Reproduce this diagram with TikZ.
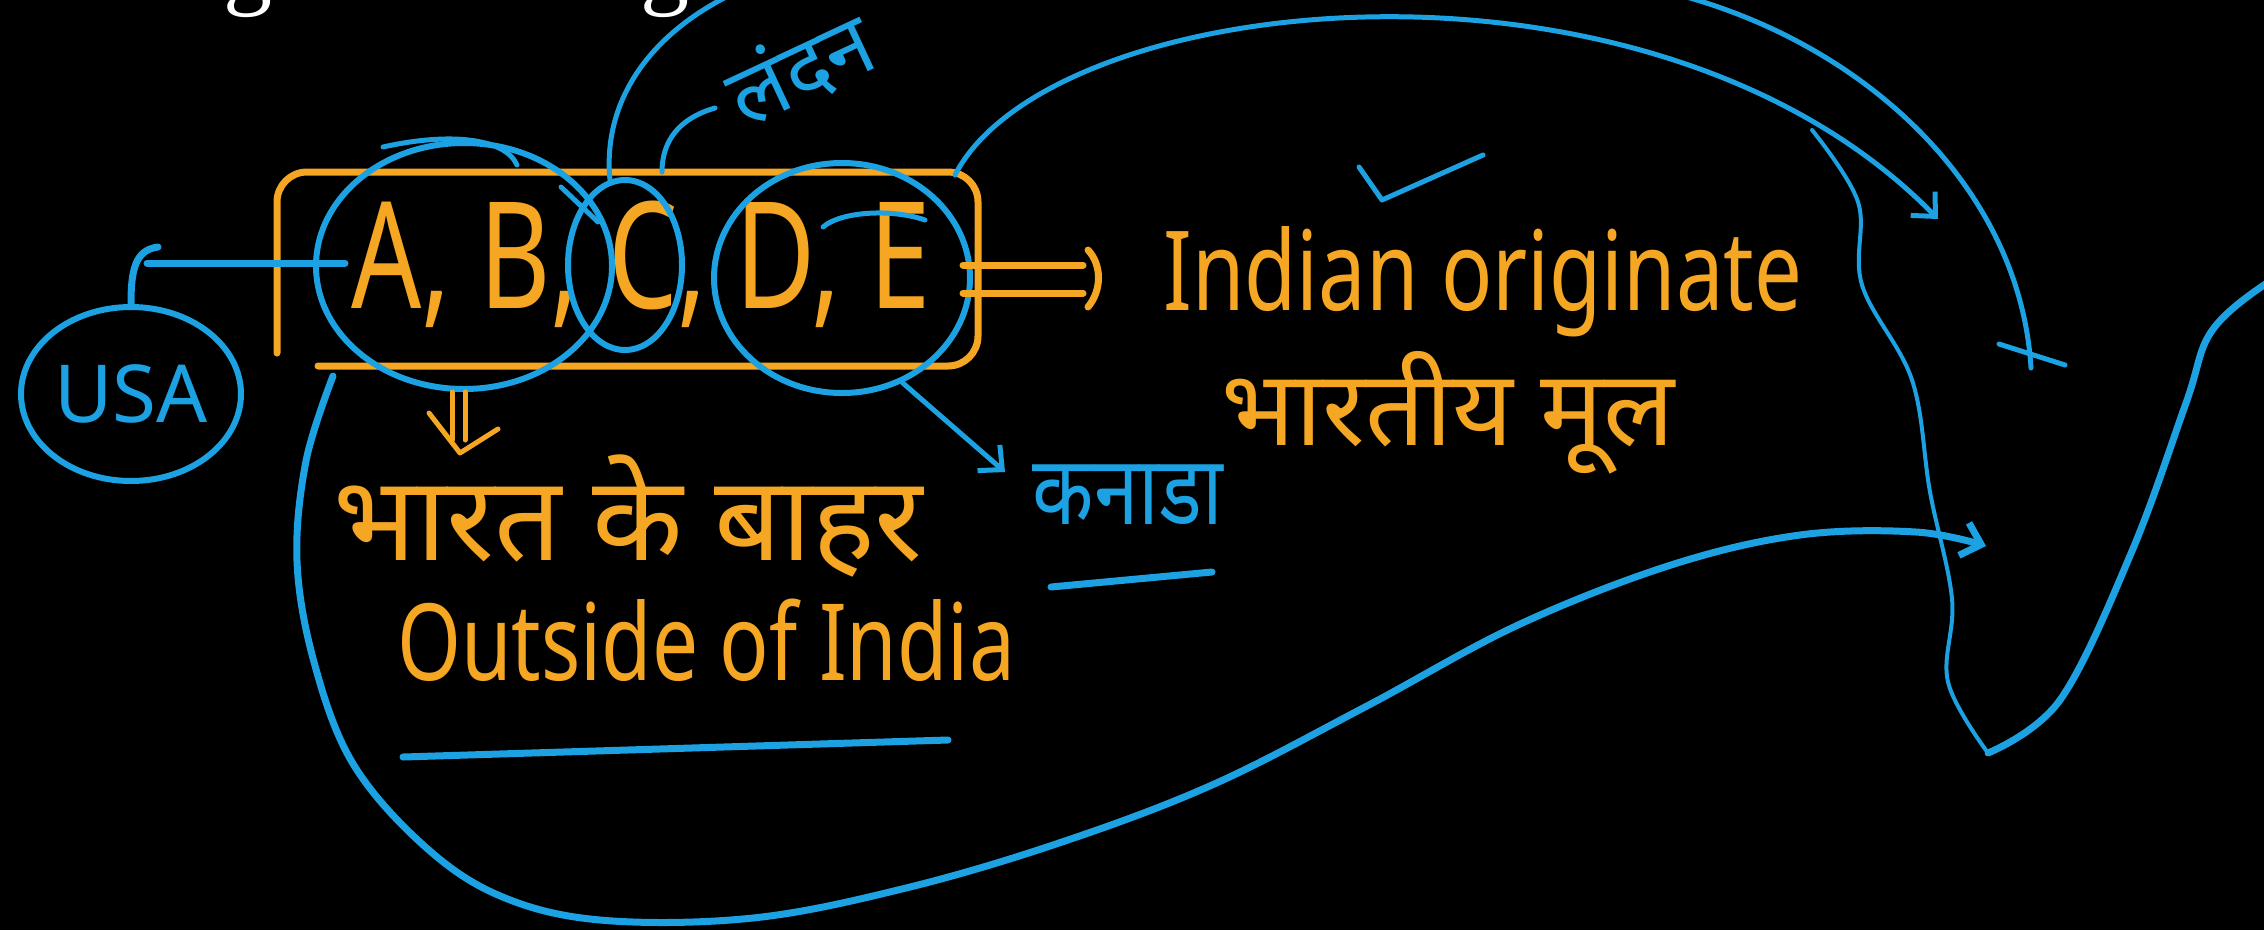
\documentclass[tikz,border=0pt]{standalone}
\usepackage{fontspec}
\usepackage{graphicx}
\setmainfont{Noto Sans}
\newfontfamily\deva[Script=Devanagari]{Noto Sans}
\newfontfamily\topserif{Liberation Serif}
\usetikzlibrary{arrows.meta,shapes.geometric}
\definecolor{wbblue}{RGB}{28,161,226}
\definecolor{wborange}{RGB}{245,166,35}
\begin{document}
\begin{tikzpicture}[x=1pt,y=-1pt,
  bl/.style={draw=wbblue,line width=7pt,line cap=round,line join=round},
  blm/.style={draw=wbblue,line width=5pt,line cap=round,line join=round},
  orl/.style={draw=wborange,line width=7pt,line cap=round,line join=round},
  circ/.style={draw=wbblue,line width=6pt,ellipse,inner sep=0pt},
  otxt/.style={text=wborange,inner sep=0pt},
  btxt/.style={text=wbblue,inner sep=0pt},
  barb/.style={-{Straight Barb[length=18pt,width=34pt]}}
]
\fill[black] (0,0) rectangle (2264,930);
\useasboundingbox (0,0) rectangle (2264,930);
\clip (0,0) rectangle (2264,930);

% cut-off heading at the top
\node[anchor=base west,text=white,inner sep=0pt,font=\topserif\fontsize{98}{98}\selectfont] (heading) at (-288,-4) {of Indian Origin residing Outside India};

% orange group box
\draw[orl,rounded corners=30pt] (277,353) -- (277,172) -- (978,172) -- (978,366) -- (318,366);

% letters
\node[otxt,anchor=base,font=\fontsize{110}{110}\selectfont] (abc) at (641,308) {\scalebox{1}[1.35]{A, B, C, D, E}};

% blue circles
\node[circ,minimum width=296pt,minimum height=246pt] (abcirc) at (464,266) {};
\node[circ,minimum width=114pt,minimum height=170pt] (ccirc) at (625,265) {};
\node[circ,minimum width=256pt,minimum height=230pt] (decirc) at (842,278) {};
\node[circ,minimum width=220pt,minimum height=174pt,text=wbblue,font=\fontsize{80}{80}\selectfont] (usa) at (131,394) {USA};
\draw[blm] (383,147) .. controls (450,132) and (505,138) .. (517,165);
\draw[blm] (823,227) .. controls (840,212) and (890,208) .. (925,220);
\draw[blm] (561,187) -- (598,222);

% arrow to USA
\draw[bl] (345,263) -- (147,263);
\draw[bl] (158,247) .. controls (135,250) and (131,270) .. (usa.north);

% double arrow and Indian originate
\draw[orl] (963,265) -- (1083,265);
\draw[orl] (963,293) -- (1083,293);
\draw[orl] (1088,250) .. controls (1102,265) and (1102,290) .. (1088,307);
\node[otxt,anchor=base west,font=\fontsize{85}{85}\selectfont] (indian) at (1163,310) {\scalebox{1}[1.3]{Indian originate}};
\draw[blm] (1359,167) -- (1382,200) -- (1483,155);
\node[otxt,anchor=base west,font=\deva\fontsize{105}{105}\selectfont] (bhartiya) at (1221,445) {भारतीय मूल};

% down arrow and outside text
\draw[orl,line width=5pt] (452,392) -- (452,440);
\draw[orl,line width=5pt] (465,392) -- (465,440);
\draw[orl,line width=5pt] (429,413) -- (460,453) -- (498,429);
\node[otxt,anchor=base west,font=\deva\fontsize{118}{118}\selectfont] (bahar) at (333,560) {भारत के बाहर};
\node[otxt,anchor=base west,font=\fontsize{82}{82}\selectfont] (outside) at (397,680) {\scalebox{1}[1.3]{Outside of India}};
\draw[bl] (403,757) -- (948,740);

% Canada
\node[btxt,font=\deva\fontsize{80}{80}\selectfont] (canada) at (1128,495) {\scalebox{1}[1.2]{कनाडा}};
\coordinate (canadatip) at (1005,472);
\draw[blm,barb] (decirc.-60) -- (canadatip);
\draw[bl] (1051,587) -- (1212,572);

% London
\node[btxt,rotate=25,font=\deva\fontsize{85}{85}\selectfont] (london) at (800,68) {लंदन};
\draw[blm] (662,172) .. controls (662,140) and (680,118) .. (715,108);

% big arcs to India
\coordinate (boxNE) at (955,175);
\coordinate (tipA) at (1938,219);
\draw[blm,barb] (boxNE) .. controls (1050,-10) and (1650,-75) .. (tipA);
\coordinate (tipB) at (2031,368);
\draw[blm] (ccirc.100) .. controls (603,110) and (640,40) .. (730,-5)
  .. controls (900,-90) and (1500,-70) .. (1690,-2)
  .. controls (1870,50) and (2020,190) .. (tipB);
\draw[blm] (1999,344) -- (2065,365);

% lower loop
\coordinate (boxSW) at (333,376);
\coordinate (tipC) at (1986,546);
\draw[bl,barb] plot[smooth,tension=0.6] coordinates {(333,376) (306,461) (297,561) (314,662) (352,762) (421,843) (498,895) (600,920) (753,918) (906,888) (1059,843) (1212,785) (1365,707) (1518,625) (1671,565) (1800,535) (1916,532) (1986,546)};

% India outline
\draw[blm,line width=4pt] plot[smooth,tension=0.6] coordinates {(1812,130) (1858,202) (1862,285) (1912,380) (1930,492) (1952,599) (1948,682) (1988,753)};
\draw[bl] plot[smooth,tension=0.6] coordinates {(1988,753) (2060,700) (2132,551) (2186,403) (2211,332) (2264,285) (2290,278)};
\end{tikzpicture}
\end{document}
